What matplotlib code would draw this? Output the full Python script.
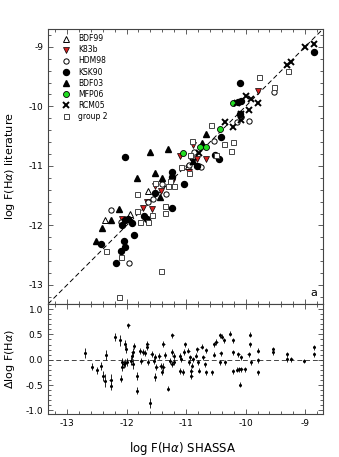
import matplotlib
matplotlib.use("Agg")
import matplotlib.pyplot as plt
from matplotlib.ticker import MultipleLocator, FormatStrFormatter

plt.rcParams['font.family'] = ['DejaVu Sans']
plt.rcParams['axes.unicode_minus'] = False

# log F(Ha): (SHASSA, literature) per reference group
bdf99_x = [-10.96, -11.64, -11.95, -12.36]
bdf99_y = [-11.00, -11.43, -11.80, -11.91]

k83b_x = [-9.79, -10.88, -11.10, -10.82, -10.67, -10.95, -11.24, -11.53, -11.43, -11.66, -11.73, -11.57, -12.08]
k83b_y = [-9.75, -10.65, -10.83, -10.89, -10.89, -11.11, -11.27, -11.34, -11.43, -11.60, -11.71, -11.72, -11.89]

hdm98_x = [-9.53, -9.94, -10.15, -10.07, -10.53, -10.87, -10.79, -10.75, -10.95, -11.41, -11.34, -11.55,
           -12.27, -12.09, -11.96, -11.64]
hdm98_y = [-9.76, -10.24, -10.26, -10.18, -10.59, -10.76, -11.00, -11.02, -10.98, -11.31, -11.47, -11.56,
           -11.74, -11.95, -12.63, -11.60]

ksk90_x = [-8.85, -10.09, -10.12, -10.07, -10.09, -10.42, -10.51, -10.44, -10.82, -11.24, -11.24, -12.02,
           -11.03, -11.52, -11.24, -11.71, -11.66, -12.03, -11.97, -11.91, -12.08, -11.88, -12.43, -12.04,
           -12.02, -12.09, -12.18]
ksk90_y = [-9.09, -9.60, -9.92, -9.91, -10.12, -10.51, -10.82, -10.89, -11.01, -11.10, -11.18, -10.85,
           -11.31, -11.46, -11.71, -11.84, -11.89, -11.91, -11.89, -11.96, -11.99, -12.16, -12.31, -12.26,
           -12.37, -12.43, -12.63]

bdf03_x = [-10.67, -10.74, -11.30, -11.61, -11.82, -11.53, -11.40, -11.44, -12.12, -12.26, -12.41, -12.51, -10.88]
bdf03_y = [-10.46, -10.62, -10.71, -10.76, -11.20, -11.12, -11.21, -11.53, -11.72, -11.91, -12.05, -12.26, -10.92]

mfp06_x = [-10.21, -10.43, -10.77, -10.67, -11.05]
mfp06_y = [-9.95, -10.38, -10.68, -10.69, -10.78]

rcm05_x = [-8.85, -9.01, -9.23, -9.31, -10.00, -9.91, -9.79, -9.95, -10.08, -10.08, -10.35, -10.21, -10.15,
           -10.78, -10.89]
rcm05_y = [-8.95, -9.00, -9.25, -9.30, -9.83, -9.87, -9.95, -10.06, -10.13, -10.23, -10.27, -10.35, -9.95,
           -10.78, -10.93]

grp2_x = [-9.78, -9.53, -9.29, -10.58, -10.90, -10.37, -10.21, -10.25, -10.93, -10.49, -11.09, -10.95,
          -11.52, -11.82, -11.30, -11.21, -11.27, -11.35, -11.35, -11.57, -11.83, -11.77, -11.64, -12.35,
          -12.10, -11.42, -12.12]
grp2_y = [-9.51, -9.68, -9.41, -10.32, -10.58, -10.63, -10.60, -10.75, -10.81, -10.81, -11.02, -11.12,
          -11.28, -11.47, -11.34, -11.34, -11.25, -11.67, -11.79, -11.82, -11.75, -11.94, -11.94, -12.43,
          -12.53, -12.77, -13.21]

# residuals (literature - SHASSA)
res_x = [-12.70, -12.58, -12.50, -12.43, -12.39, -12.36, -12.35, -12.27, -12.26, -12.19, -12.11, -12.09,
         -12.08, -12.07, -12.04, -12.03, -12.03, -12.01, -12.00, -11.97, -11.93, -11.91, -11.90, -11.90,
         -11.88, -11.83, -11.82, -11.77, -11.75, -11.72, -11.69, -11.66, -11.65, -11.64, -11.61, -11.58,
         -11.54, -11.52, -11.52, -11.50, -11.45, -11.43, -11.41, -11.38, -11.38, -11.35, -11.30, -11.27,
         -11.24, -11.23, -11.23, -11.21, -11.20, -11.10, -11.10, -11.09, -11.05, -11.04, -11.02, -10.96,
         -10.95, -10.93, -10.91, -10.91, -10.90, -10.88, -10.83, -10.81, -10.80, -10.78, -10.74, -10.71,
         -10.68, -10.67, -10.67, -10.57, -10.53, -10.53, -10.49, -10.43, -10.43, -10.42, -10.40, -10.36,
         -10.35, -10.26, -10.21, -10.21, -10.21, -10.15, -10.12, -10.11, -10.09, -10.08, -10.07, -10.01,
         -9.95, -9.93, -9.93, -9.91, -9.79, -9.79, -9.79, -9.54, -9.54, -9.30, -9.30, -9.23, -9.02,
         -8.85, -8.85]
res_y = [0.13, -0.14, -0.21, -0.12, -0.32, -0.41, 0.09, -0.39, -0.52, 0.45, 0.38, -0.37,
         -0.05, -0.15, -0.09, 0.31, -0.07, 0.21, -0.05, 0.68, -0.02, 0.08, 0.16, -0.09,
         0.28, -0.32, -0.61, 0.18, -0.02, 0.15, 0.13, 0.25, 0.31, -0.05, -0.86, 0.11,
         -0.02, 0.05, -0.34, -0.15, 0.08, -0.12, -0.25, 0.31, -0.15, 0.10, -0.57, -0.02,
         0.15, 0.48, -0.09, 0.08, -0.05, 0.08, -0.22, 0.01, -0.25, 0.15, 0.31, 0.18,
         -0.05, 0.05, -0.22, -0.32, -0.12, 0.01, 0.08, 0.21, -0.05, -0.22, 0.26, 0.05,
         -0.09, 0.19, -0.25, -0.25, 0.10, 0.31, 0.35, 0.48, -0.05, 0.13, 0.45, 0.38,
         -0.05, 0.51, 0.38, 0.15, -0.23, -0.20, 0.11, -0.19, -0.49, 0.05, -0.19, -0.19,
         0.11, 0.49, 0.31, -0.05, 0.18, -0.01, -0.25, 0.21, 0.15, 0.11, 0.01, 0.01, -0.02,
         0.25, 0.11]
res_err = [0.10, 0.07, 0.07, 0.08, 0.10, 0.12, 0.10, 0.10, 0.07, 0.08, 0.10, 0.07,
           0.08, 0.08, 0.08, 0.08, 0.08, 0.08, 0.08, 0.05, 0.08, 0.08, 0.08, 0.10,
           0.06, 0.07, 0.07, 0.06, 0.06, 0.06, 0.06, 0.06, 0.06, 0.06, 0.10, 0.06,
           0.06, 0.06, 0.08, 0.06, 0.06, 0.06, 0.06, 0.06, 0.08, 0.06, 0.05, 0.06,
           0.06, 0.05, 0.06, 0.06, 0.06, 0.06, 0.06, 0.05, 0.06, 0.06, 0.05, 0.05,
           0.05, 0.05, 0.06, 0.06, 0.05, 0.05, 0.05, 0.05, 0.05, 0.05, 0.05, 0.05,
           0.05, 0.05, 0.05, 0.05, 0.05, 0.05, 0.05, 0.05, 0.05, 0.05, 0.05, 0.05,
           0.05, 0.05, 0.05, 0.05, 0.05, 0.05, 0.05, 0.05, 0.05, 0.05, 0.05, 0.05,
           0.05, 0.05, 0.05, 0.05, 0.05, 0.05, 0.05, 0.05, 0.05, 0.05, 0.05, 0.05, 0.04,
           0.05, 0.05]

lims = [-13.32, -8.70]
frame_col = "#444444"

fig = plt.figure(figsize=(3.39, 4.57), dpi=100)
ax1 = fig.add_axes([0.1416, 0.3348, 0.8112, 0.6018])
ax2 = fig.add_axes([0.1416, 0.0941, 0.8112, 0.2407])

ax1.plot(lims, lims, color="k", lw=0.7, dashes=(5, 3), zorder=1)

ax1.plot(bdf99_x, bdf99_y, ls="none", marker="^", ms=3.8, mfc="white", mec="k", mew=0.7, label="BDF99")
ax1.plot(k83b_x, k83b_y, ls="none", marker="v", ms=4.0, mfc="#d42020", mec="k", mew=0.5, label="K83b")
ax1.plot(hdm98_x, hdm98_y, ls="none", marker="o", ms=3.8, mfc="white", mec="k", mew=0.7, label="HDM98")
ax1.plot(ksk90_x, ksk90_y, ls="none", marker="o", ms=4.3, mfc="k", mec="k", label="KSK90")
ax1.plot(bdf03_x, bdf03_y, ls="none", marker="^", ms=4.2, mfc="k", mec="k", label="BDF03")
ax1.plot(mfp06_x, mfp06_y, ls="none", marker="o", ms=4.3, mfc="#22dd22", mec="k", mew=0.6, label="MFP06")
ax1.plot(rcm05_x, rcm05_y, ls="none", marker="x", ms=3.8, mec="k", mew=1.4, label="RCM05")
ax1.plot(grp2_x, grp2_y, ls="none", marker="s", ms=3.6, mfc="white", mec="#444444", mew=0.7, label="group 2")

ax1.legend(loc="upper left", bbox_to_anchor=(0.03, 1.0), frameon=False, fontsize=5.5,
           handletextpad=1.0, labelspacing=0.27, borderaxespad=0.3, handlelength=1.2, borderpad=0.4)

ax1.text(0.965, 0.04, "a", transform=ax1.transAxes, fontsize=8, ha="center", va="center")

ax2.axhline(0, color=frame_col, lw=0.7, dashes=(5, 3))
ax2.errorbar(res_x, res_y, yerr=res_err, xerr=0.02, fmt="o", ms=1.2, color="k", ecolor="k",
             elinewidth=0.6, capsize=0)

for ax in (ax1, ax2):
    ax.set_xlim(lims)
    ax.xaxis.set_major_locator(MultipleLocator(1))
    ax.xaxis.set_minor_locator(MultipleLocator(0.2))
    ax.tick_params(which="both", direction="in", top=True, right=True, colors=frame_col,
                   labelcolor="k", labelsize=6.5, width=0.6)
    ax.tick_params(which="major", length=3.5)
    ax.tick_params(which="minor", length=2)
    for s in ax.spines.values():
        s.set_color(frame_col)
        s.set_linewidth(0.8)

ax1.set_ylim(lims)
ax1.yaxis.set_major_locator(MultipleLocator(1))
ax1.yaxis.set_minor_locator(MultipleLocator(0.2))
ax1.tick_params(labelbottom=False)

ax2.set_ylim(-1.07, 1.1)
ax2.yaxis.set_major_locator(MultipleLocator(0.5))
ax2.yaxis.set_minor_locator(MultipleLocator(0.1))
ax2.yaxis.set_major_formatter(FormatStrFormatter("%.1f"))

ax1.set_ylabel("log F(H$\\alpha$) literature", fontsize=8)
ax2.set_ylabel("$\\Delta$log F(H$\\alpha$)", fontsize=8)
ax1.yaxis.set_label_coords(-0.112, 0.5)
ax2.yaxis.set_label_coords(-0.112, 0.5)
ax2.set_xlabel("log F(H$\\alpha$) SHASSA", fontsize=8.5)
ax2.xaxis.set_label_coords(0.49, -0.24)

fig.savefig("out.png", dpi=100)
